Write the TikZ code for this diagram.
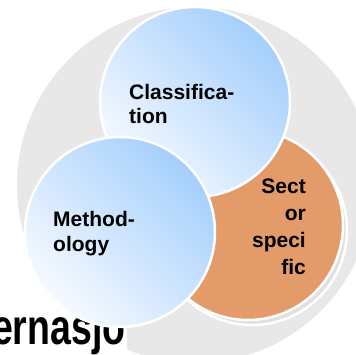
\documentclass[tikz,border=0pt]{standalone}
\usepackage{fontspec}
\setmainfont{Liberation Sans}
\usepackage{tikz}
\usetikzlibrary{positioning}
\definecolor{backgray}{RGB}{232,232,232}
\definecolor{shadowgray}{RGB}{224,224,224}
\definecolor{bluedark}{RGB}{164,207,252}
\definecolor{bluelight}{RGB}{247,250,255}
\definecolor{sectorange}{RGB}{228,155,106}

\begin{document}
\begin{tikzpicture}[x=1pt,y=1pt,
  bubble/.style={circle,minimum size=190pt,inner sep=0pt,draw=white,line width=2.5pt},
  bluebubble/.style={bubble,top color=bluedark,bottom color=bluelight,shading angle=-45},
  bubbletext/.style={font=\bfseries\fontsize{21}{#1}\selectfont,inner sep=0pt}]
  \useasboundingbox (0,0) rectangle (356,355);
  \clip (0,0) rectangle (356,355);
  \node[circle,fill=backgray,minimum size=356pt,inner sep=0pt] (back) at (195,170) {};
  % title box of the slide, half hidden
  \begin{scope}
    \clip (-10,-10) rectangle (127,38);
    \fill[white] (-10,-10) rectangle (127,38);
    \node[anchor=base west,inner sep=0pt,font=\bfseries\fontsize{50}{50}\selectfont,
      xscale=0.75,transform shape] (title) at (-8,10) {ernasjo};
  \end{scope}
  \node[bubble,fill=shadowgray] (shadow) at (252,125) {};
  \node[bubble,fill=sectorange] (sector) at (248,130) {};
  \node[bluebubble] (classif) at (195,253) {};
  \node[bluebubble] (method) at (120,123) {};
  % base anchor sits on the last line
  \node[bubbletext=24,align=left,anchor=base west] (classiflbl) at (129,231) {Classifica-\\tion};
  \node[bubbletext=25,align=left,anchor=base west] (methodlbl) at (53,103) {Method-\\ology};
  \node[bubbletext=27,align=right,anchor=base east] (sectorlbl) at (306,80) {Sect\\or\\speci\\fic};
\end{tikzpicture}
\end{document}
